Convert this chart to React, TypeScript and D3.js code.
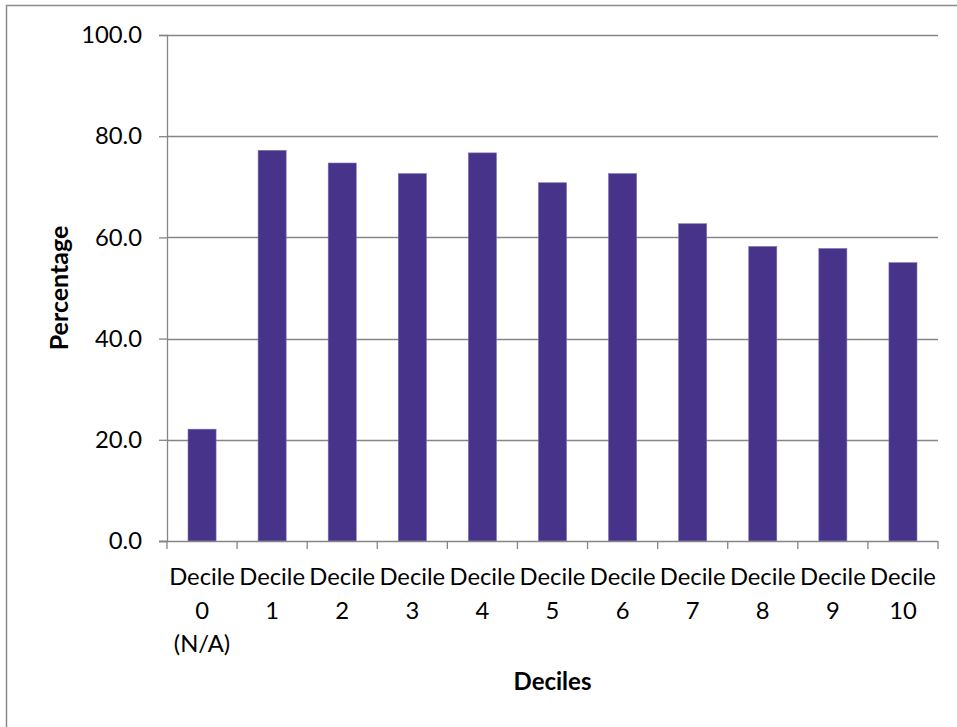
import React, { useEffect, useRef } from 'react';
import * as d3 from 'd3';

const categories = [
  'Decile 0 (N/A)', 'Decile 1', 'Decile 2', 'Decile 3', 'Decile 4', 'Decile 5',
  'Decile 6', 'Decile 7', 'Decile 8', 'Decile 9', 'Decile 10'
];
const percentages = [22.1, 77.2, 74.7, 72.6, 76.7, 70.8, 72.6, 62.7, 58.2, 57.8, 55.0];
const yTicks = [0, 20, 40, 60, 80, 100];

const WIDTH = 957;
const HEIGHT = 727;
const FONT = 'Lato, "Open Sans", sans-serif';

const App: React.FC = () => {
  const svgRef = useRef<SVGSVGElement>(null);

  useEffect(() => {
    if (!svgRef.current) return;
    const svg = d3.select(svgRef.current);
    svg.selectAll('*').remove();

    const margin = { top: 35, right: 19, bottom: 186, left: 167 };
    const innerWidth = WIDTH - margin.left - margin.right;
    const innerHeight = HEIGHT - margin.top - margin.bottom;

    // outer chart frame (only top and left edges fall inside the picture)
    svg.append('rect')
      .attr('x', 6.5).attr('y', 5.5)
      .attr('width', WIDTH + 20).attr('height', HEIGHT + 20)
      .attr('fill', '#fff')
      .attr('stroke', '#8c8c8c')
      .attr('stroke-width', 1.5);

    const xScale = d3.scaleBand()
      .domain(categories)
      .range([0, innerWidth])
      .paddingInner(0.6)
      .paddingOuter(0.3);

    const yScale = d3.scaleLinear()
      .domain([0, 100])
      .range([innerHeight, 0]);

    const g = svg.append('g')
      .attr('transform', `translate(${margin.left},${margin.top})`);

    // gridlines
    g.append('g')
      .selectAll('line')
      .data(yTicks.filter(t => t > 0))
      .enter()
      .append('line')
      .attr('x1', 0).attr('x2', innerWidth)
      .attr('y1', d => Math.round(yScale(d)) + 0.5)
      .attr('y2', d => Math.round(yScale(d)) + 0.5)
      .attr('stroke', '#868686')
      .attr('stroke-width', 1.3);

    // bars
    g.selectAll('.bar')
      .data(percentages)
      .enter()
      .append('rect')
      .attr('class', 'bar')
      .attr('x', (_, i) => xScale(categories[i]) || 0)
      .attr('width', xScale.bandwidth())
      .attr('y', d => yScale(d))
      .attr('height', d => innerHeight - yScale(d))
      .attr('fill', '#47348a')
      .attr('stroke', '#7b6db0')
      .attr('stroke-width', 0.6);

    // y axis
    const yAxis = g.append('g')
      .call(d3.axisLeft(yScale).tickValues(yTicks).tickSize(8).tickFormat(d => (d as number).toFixed(1)));
    yAxis.select('.domain').attr('stroke', '#868686').attr('stroke-width', 1.3);
    yAxis.selectAll('.tick line').attr('stroke', '#868686').attr('stroke-width', 1.3);
    yAxis.selectAll('.tick text')
      .attr('x', -25)
      .style('font-family', FONT)
      .style('font-size', '23.8px')
      .attr('fill', '#000');

    // x axis: ticks at band boundaries
    const step = xScale.step();
    const boundaries = d3.range(categories.length + 1).map(i => i * step);
    g.append('line')
      .attr('x1', -8).attr('x2', innerWidth)
      .attr('y1', innerHeight + 0.5).attr('y2', innerHeight + 0.5)
      .attr('stroke', '#868686').attr('stroke-width', 1.3);
    g.append('g')
      .selectAll('line')
      .data(boundaries)
      .enter()
      .append('line')
      .attr('x1', d => d).attr('x2', d => d)
      .attr('y1', innerHeight).attr('y2', innerHeight + 8)
      .attr('stroke', '#868686').attr('stroke-width', 1.3);

    // wrapped category labels
    const labels = g.append('g')
      .selectAll('text')
      .data(categories)
      .enter()
      .append('text')
      .attr('x', d => (xScale(d) || 0) + xScale.bandwidth() / 2)
      .attr('y', innerHeight + 44)
      .attr('text-anchor', 'middle')
      .style('font-family', FONT)
      .style('font-size', '23.8px')
      .attr('fill', '#000');
    labels.each(function (d) {
      const t = d3.select(this);
      const x = t.attr('x');
      d.split(' ').forEach((w, i) => {
        t.append('tspan').attr('x', x).attr('dy', i === 0 ? 0 : 33.5).text(w);
      });
    });

    // axis titles
    svg.append('text')
      .attr('transform', `translate(68, ${margin.top + innerHeight / 2}) rotate(-90)`)
      .attr('text-anchor', 'middle')
      .style('font-family', FONT)
      .style('font-size', '25px')
      .style('font-weight', 'bold')
      .text('Percentage');

    svg.append('text')
      .attr('x', margin.left + innerWidth / 2)
      .attr('y', 690)
      .attr('text-anchor', 'middle')
      .style('font-family', FONT)
      .style('font-size', '24px')
      .style('font-weight', 'bold')
      .text('Deciles');
  }, []);

  return (
    <svg
      ref={svgRef}
      width={WIDTH}
      height={HEIGHT}
      style={{ position: 'absolute', left: 0, top: 0, background: '#fff' }}
    />
  );
};

export default App;
